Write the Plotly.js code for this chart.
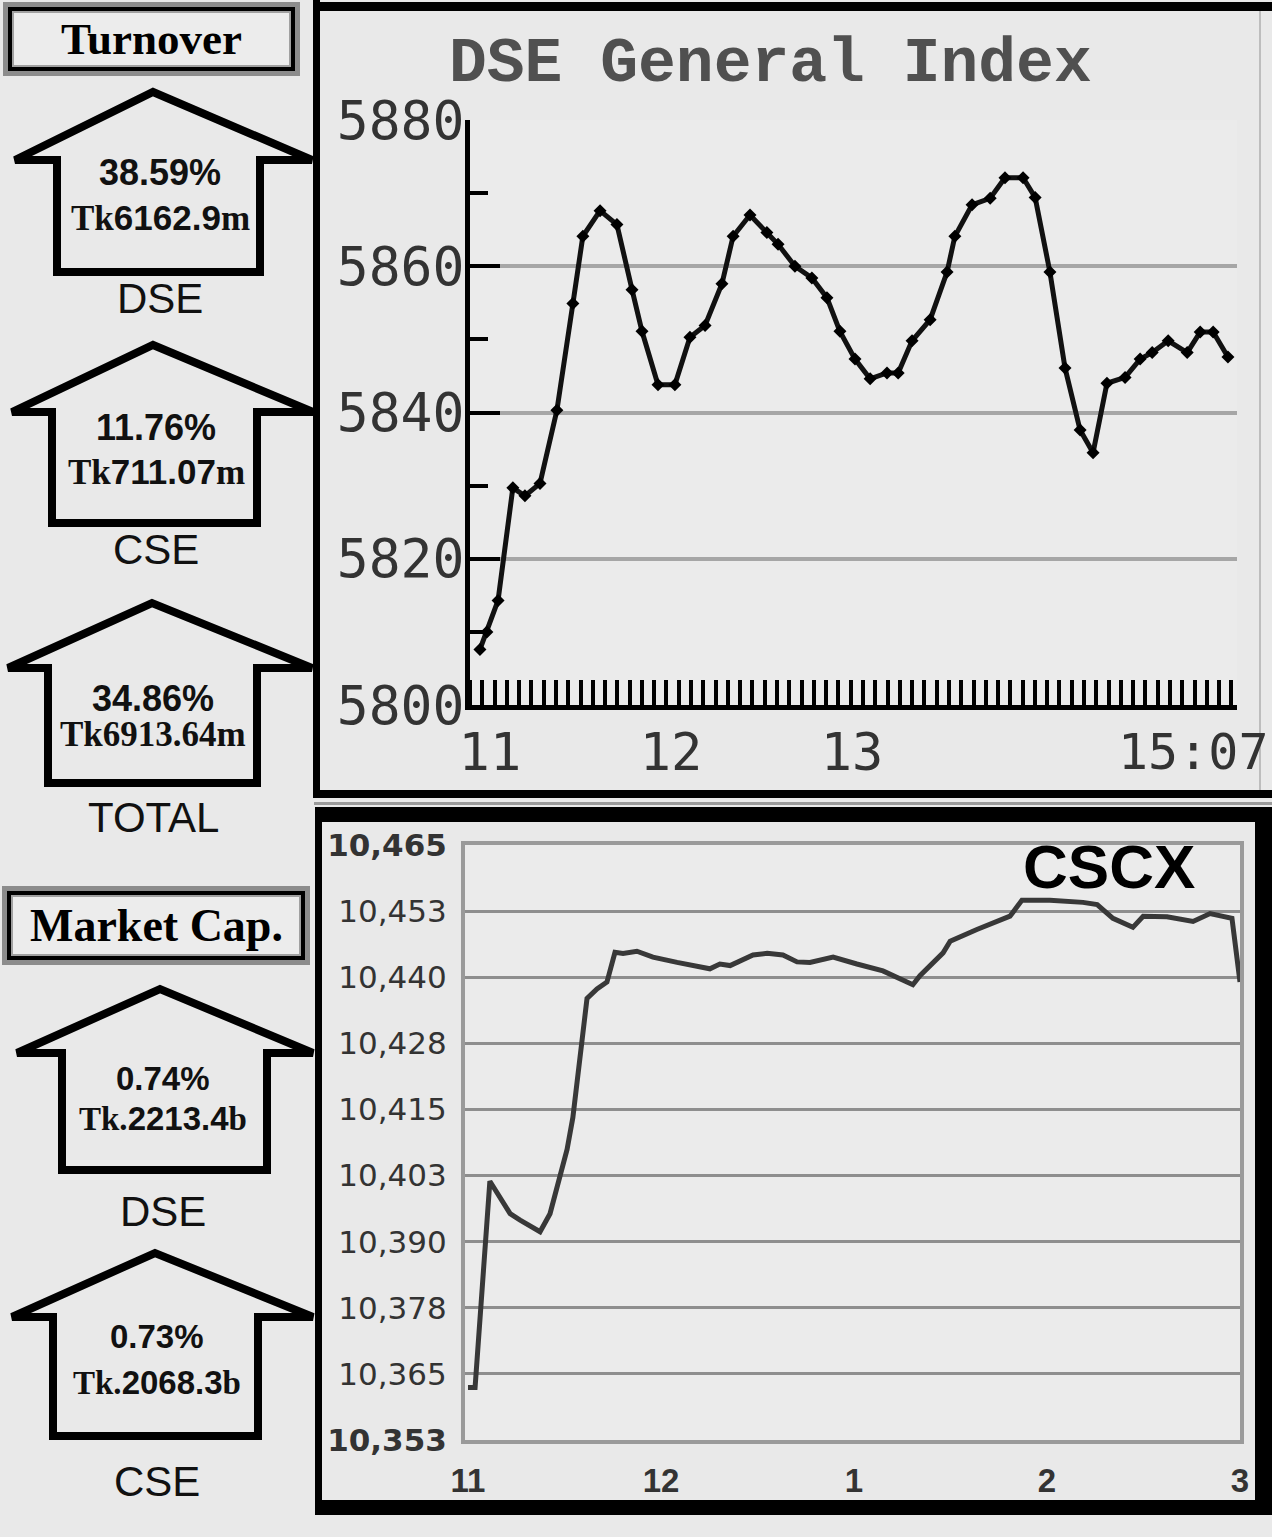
<!DOCTYPE html>
<html>
<head>
<meta charset="utf-8">
<script src="https://cdn.plot.ly/plotly-3.0.1.min.js"></script>
<style>
html,body{margin:0;padding:0;background:#e9e9e9;}
#chart{width:1272px;height:1537px;}
</style>
</head>
<body>
<div id="chart"></div>
<script>
// ---------- DATA ----------
// DSE General Index, minutes after 11:00
const dseTimes = [-3.3,-1.0,2.7,7.6,11.6,16.6,22.2,27.5,30.8,36.5,42.1,47.1,50.4,55.7,61.3,66.3,71.3,76.9,80.6,86.2,91.8,95.5,101.1,106.7,111.7,116.0,121.0,126.0,131.6,135.3,139.9,145.9,151.5,154.1,159.8,165.8,170.7,176.7,180.7,185.6,190.6,195.6,199.9,204.5,210.5,215.5,219.5,224.8,231.1,235.4,239.7,244.6];
const dseValues = [5807.6,5810.0,5814.3,5829.7,5828.6,5830.3,5840.3,5854.9,5864.1,5867.6,5865.7,5856.8,5851.1,5843.8,5843.8,5850.3,5851.9,5857.6,5864.1,5867.0,5864.6,5863.0,5860.0,5858.4,5855.7,5851.1,5847.3,5844.6,5845.4,5845.4,5849.8,5852.7,5859.2,5864.1,5868.4,5869.3,5872.1,5872.1,5869.4,5859.2,5846.1,5837.6,5834.5,5844.0,5844.8,5847.3,5848.2,5849.8,5848.2,5851.0,5851.0,5847.6];
const dseYTicks = [5800,5820,5840,5860,5880];
const dseXTickVals = [0,60,120];
const dseXTickText = ['11','12','13'];
const dseEndLabel = '15:07';

// CSCX, minutes after 11:00
const cscxTimes = [0,2.2,6.8,13.1,16.2,22.4,25.5,30.8,32.6,37.0,40.1,43.2,45.7,48.2,52.5,57.5,65.0,75.2,78.3,81.5,88.6,93.0,97.9,102.3,106.3,113.5,120.9,129.0,138.3,140.5,147.7,149.9,158.2,165.4,168.5,172.2,180.9,191.2,195.6,200.5,206.7,209.9,217.3,225.4,230.7,237.5,240.0];
const cscxValues = [10362.9,10362.9,10401.7,10395.6,10394.4,10392.2,10395.6,10407.7,10413.7,10436.1,10437.9,10439.2,10444.8,10444.6,10445.0,10443.9,10442.9,10441.7,10442.6,10442.3,10444.3,10444.6,10444.3,10443.0,10442.9,10443.9,10442.6,10441.3,10438.7,10440.4,10444.7,10446.9,10449.1,10450.8,10451.6,10454.6,10454.6,10454.2,10453.8,10451.2,10449.5,10451.6,10451.5,10450.6,10452.1,10451.2,10439.2];
const cscxYMin = 10353, cscxYMax = 10465;
const cscxYTickText = ['10,353','10,365','10,378','10,390','10,403','10,415','10,428','10,440','10,453','10,465'];
const cscxXTickVals = [0,60,120,180,240];
const cscxXTickText = ['11','12','1','2','3'];

// Side panel figures
const turnoverPct = ['38.59%','11.76%','34.86%'];
const turnoverAmt = ['Tk6162.9m','Tk711.07m','Tk6913.64m'];
const turnoverLbl = ['DSE','CSE','TOTAL'];
const mcapPct = ['0.74%','0.73%'];
const mcapAmt = ['Tk.2213.4b','Tk.2068.3b'];
const mcapLbl = ['DSE','CSE'];

// ---------- LAYOUT HELPERS ----------
const W = 1272, H = 1537;
const px = x => x / W;
const py = y => 1 - y / H;
const shapes = [], annotations = [];

function rect(x0, y0, x1, y1, fill, lineColor, lineWidth) {
  shapes.push({type:'rect', xref:'paper', yref:'paper', x0:px(x0), x1:px(x1), y0:py(y1), y1:py(y0),
    fillcolor: fill || 'rgba(0,0,0,0)', line:{color: lineColor || 'rgba(0,0,0,0)', width: lineWidth || 0}, layer:'above'});
}
function text(x, y, t, size, family, color, xanchor) {
  annotations.push({xref:'paper', yref:'paper', x:px(x), y:py(y), text:t, showarrow:false,
    xanchor: xanchor || 'center', yanchor:'middle', font:{size:size, family:family, color:color || '#000'}});
}
function arrow(g) {
  const p = (x, y) => `${px(x)},${py(y)}`;
  const path = `M${p(g.lx, g.ty)} L${p(g.bl, g.ty)} L${p(g.bl, g.bot)} L${p(g.br, g.bot)} L${p(g.br, g.ty)} L${p(g.rx, g.ty)} L${p(g.ax, g.ay)} Z`;
  shapes.push({type:'path', xref:'paper', yref:'paper', path:path, fillcolor:'rgba(0,0,0,0)', line:{color:'#000', width:8}, layer:'above'});
}

const SANS = 'Liberation Sans, Arial, sans-serif';
const SERIF = 'Liberation Serif, Times New Roman, serif';
function amtText(s) {
  const m = s.match(/^(Tk\.?)([\d.]+)([a-z])$/);
  if (!m) return '<b>' + s + '</b>';
  return `<b><span style="font-family:${SERIF}">${m[1]}</span>${m[2]}<span style="font-family:${SERIF}">${m[3]}</span></b>`;
}

// Header boxes
function headerBox(x0, y0, x1, y1, label, size) {
  rect(x0, y0, x1, y1, '#8c8c8c');
  rect(x0 + 5, y0 + 5, x1 - 5, y1 - 5, '#000');
  rect(x0 + 10, y0 + 10, x1 - 10, y1 - 10, '#ececec', '#a0a0a0', 2);
  text((x0 + x1) / 2, (y0 + y1) / 2, '<b>' + label + '</b>', size, SERIF, '#000');
}
headerBox(3, 2, 300, 76, 'Turnover', 45);
headerBox(2, 886, 310, 965, 'Market Cap.', 46);

// Turnover arrows
const tArrows = [
  {ax:153, ay:92,  ty:160, lx:15, rx:312, bl:57, br:260, bot:272, cx:160, p:172, a:218, l:298},
  {ax:153, ay:345, ty:412, lx:12, rx:313, bl:52, br:257, bot:523, cx:156, p:427, a:472, l:550},
  {ax:152, ay:603, ty:668, lx:8,  rx:312, bl:48, br:257, bot:783, cx:153, p:698, a:735, l:817}
];
tArrows.forEach((g, i) => {
  arrow(g);
  text(g.cx, g.p, '<b>' + turnoverPct[i] + '</b>', 36, SANS, '#111');
  text(g.cx, g.a, i === 2 ? '<b>' + turnoverAmt[i] + '</b>' : amtText(turnoverAmt[i]), 35, i === 2 ? SERIF : SANS, '#111');
  text(g.cx, g.l, turnoverLbl[i], 42, SANS, '#111');
});
const mArrows = [
  {ax:160, ay:989,  ty:1053, lx:17, rx:313, bl:62, br:267, bot:1170, cx:163, p:1078, a:1118, l:1211},
  {ax:155, ay:1253, ty:1317, lx:12, rx:313, bl:53, br:258, bot:1436, cx:157, p:1336, a:1382, l:1481}
];
mArrows.forEach((g, i) => {
  arrow(g);
  text(g.cx, g.p, '<b>' + mcapPct[i] + '</b>', 33, SANS, '#111');
  text(g.cx, g.a, amtText(mcapAmt[i]), 33, SANS, '#111');
  text(g.cx, g.l, mcapLbl[i], 42, SANS, '#111');
});

// Chart frames
rect(314, 2, 1272, 11, '#000');        // top chart top
rect(313, 0, 320, 798, '#000');        // top chart left
rect(314, 790, 1272, 798, '#000');     // top chart bottom
rect(1259, 11, 1261, 790, '#bdbdbd');  // top chart right (faint)
rect(314, 802, 1272, 805, '#9a9a9a');
rect(315, 807, 1272, 822, '#000');     // bottom chart top
rect(315, 807, 322, 1515, '#000');     // left
rect(1255, 807, 1272, 1515, '#000');   // right
rect(315, 1500, 1272, 1515, '#000');   // bottom

// Titles
text(770, 65, '<b>DSE General Index</b>', 63, 'Liberation Mono, Courier New, monospace', '#505050');
text(1109, 866, '<b>CSCX</b>', 62, SANS, '#000');
text(1271, 752, dseEndLabel, 50, 'DejaVu Sans Mono, monospace', '#333', 'right');

// ---------- TRACES ----------
const traces = [
  {x: dseTimes, y: dseValues, xaxis:'x', yaxis:'y', type:'scatter', mode:'lines+markers',
   line:{color:'#111', width:5}, marker:{symbol:'diamond', size:10, color:'#000'}, hoverinfo:'skip'},
  {x: cscxTimes, y: cscxValues, xaxis:'x2', yaxis:'y2', type:'scatter', mode:'lines',
   line:{color:'#383838', width:5}, hoverinfo:'skip'}
];

const cscxYTickVals = cscxYTickText.map((_, i) => cscxYMin + i * (cscxYMax - cscxYMin) / (cscxYTickText.length - 1));
const cscxYTickLabels = cscxYTickText.map((t, i) => (i === 0 || i === cscxYTickText.length - 1) ? '<b>' + t + '</b>' : t);

const layout = {
  width: W, height: H,
  margin:{l:0, r:0, t:0, b:0, pad:0},
  paper_bgcolor:'#e9e9e9', plot_bgcolor:'#ebebeb',
  showlegend:false,
  xaxis:{domain:[px(470), px(1237)], range:[-6.6, 247.6], anchor:'y',
    showline:true, linecolor:'#000', linewidth:5, zeroline:false, showgrid:false,
    tickmode:'array', tickvals: dseXTickVals, ticktext: dseXTickText,
    ticks:'',
    tickfont:{family:'DejaVu Sans Mono, monospace', size:52, color:'#333'},
    ticklabelstandoff: -2,
    minor:{tickmode:'linear', tick0:-6.6, dtick:4.07, ticks:'inside', ticklen:25, tickwidth:4, tickcolor:'#000', showgrid:false},
    fixedrange:true},
  yaxis:{domain:[py(705), py(120)], range:[5800, 5880], anchor:'x',
    showline:true, linecolor:'#000', linewidth:5, zeroline:false,
    showgrid:true, gridcolor:'#a6a6a6', gridwidth:4,
    tickmode:'array', tickvals: dseYTicks,
    ticks:'inside', ticklen:30, tickwidth:4, tickcolor:'#000',
    tickfont:{family:'DejaVu Sans Mono, monospace', size:53, color:'#333'},
    ticklabelstandoff: -10,
    minor:{tickmode:'linear', tick0:5810, dtick:20, ticks:'inside', ticklen:18, tickwidth:4, tickcolor:'#000', showgrid:false},
    fixedrange:true},
  xaxis2:{domain:[px(465), px(1240)], range:[-0.93, 240], anchor:'y2',
    showline:true, linecolor:'#9a9a9a', linewidth:4, mirror:true, zeroline:false, showgrid:false,
    tickmode:'array', tickvals: cscxXTickVals, ticktext: cscxXTickText.map(t => '<b>' + t + '</b>'), ticks:'',
    tickfont:{family:'Liberation Sans, Arial, sans-serif', size:33, color:'#333'},
    ticklabelstandoff: 8, fixedrange:true},
  yaxis2:{domain:[py(1440), py(845)], range:[cscxYMin, cscxYMax], anchor:'x2',
    showline:true, linecolor:'#9a9a9a', linewidth:4, mirror:true, zeroline:false,
    showgrid:true, gridcolor:'#8e8e8e', gridwidth:3,
    tickmode:'array', tickvals: cscxYTickVals, ticktext: cscxYTickLabels, ticks:'',
    tickfont:{family:'DejaVu Sans, sans-serif', size:31, color:'#333'},
    ticklabelstandoff: 8, fixedrange:true},
  shapes: shapes,
  annotations: annotations
};

Plotly.newPlot('chart', traces, layout, {staticPlot:true, displayModeBar:false});
</script>
</body>
</html>
